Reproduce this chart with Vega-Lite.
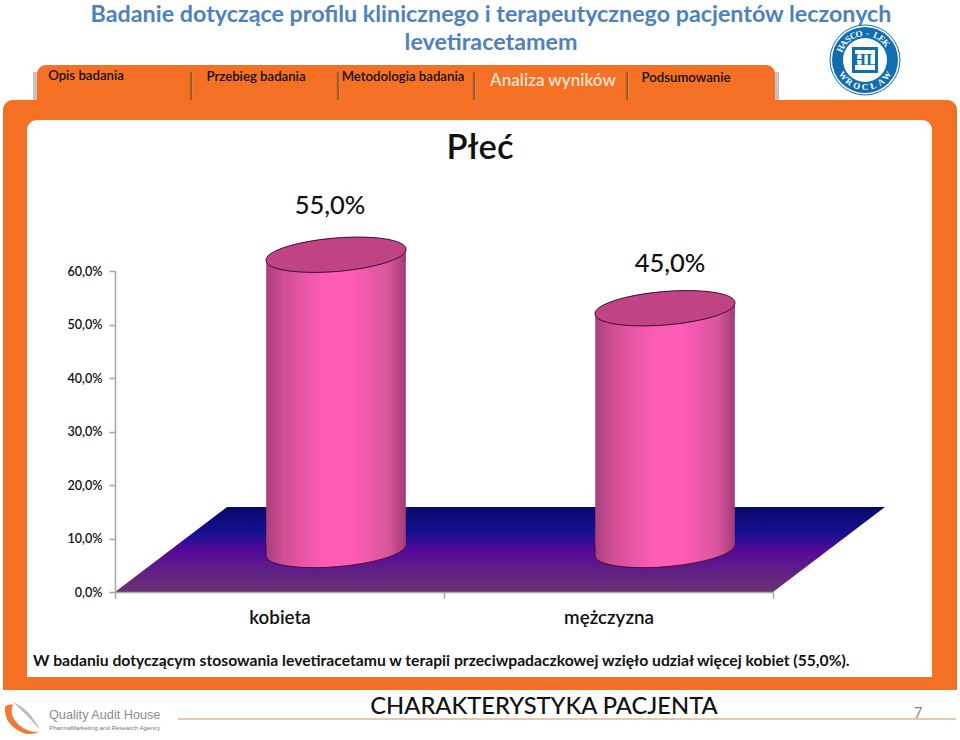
{
"$schema":"https://vega.github.io/schema/vega-lite/v6.json",
"width":960,"height":740,"padding":0,"autosize":{"type":"none"},"background":"white",
"config":{"view":{"stroke":null},"locale":{"number":{"decimal":",","thousands":" ","grouping":[3],"currency":["","zł"]}},"font":"Lato"},
"datasets":{
"bars":[{"plec":"kobieta","udzial":0.55},{"plec":"mężczyzna","udzial":0.45}],
"logoletters":[
{"t":"H","x":840.5,"y":48.6,"a":-65},{"t":"A","x":843.7,"y":43.4,"a":-52},{"t":"S","x":848,"y":39,"a":-39},{"t":"C","x":853.2,"y":35.7,"a":-26},{"t":"O","x":858.9,"y":33.7,"a":-13},{"t":"-","x":867.4,"y":33.1,"a":5},{"t":"L","x":876.4,"y":35.5,"a":25},{"t":"E","x":881.6,"y":38.7,"a":38},{"t":"K","x":886,"y":43,"a":51},
{"t":"W","x":843.2,"y":75.9,"a":54},{"t":"R","x":849.1,"y":81.8,"a":36},{"t":"O","x":856.7,"y":85.7,"a":18},{"t":"C","x":865,"y":87,"a":0},{"t":"Ł","x":873.3,"y":85.7,"a":-18},{"t":"A","x":880.9,"y":81.8,"a":-36},{"t":"W","x":886.8,"y":75.9,"a":-54}]
},
"resolve":{"scale":{"x":"independent","y":"independent"}},
"layer":[
{"data":{"values":[{"x":33,"x2":37,"y":72,"y2":100},{"x":775,"x2":779,"y":72,"y2":100}]},
 "mark":{"type":"rect","fill":"#C9C3BE"},
 "encoding":{"x":{"field":"x","type":"quantitative","axis":null,"scale":{"domain":[0,960],"range":[0,960],"nice":false,"zero":false}},"x2":{"field":"x2"},"y":{"field":"y","type":"quantitative","axis":null,"scale":{"domain":[0,740],"range":[0,740],"nice":false,"zero":false}},"y2":{"field":"y2"}}},
{"data":{"values":[{"x":3,"x2":957,"y":100,"y2":690}]},
 "mark":{"type":"rect","fill":"#F47024","cornerRadiusTopLeft":10,"cornerRadiusTopRight":10},
 "encoding":{"x":{"field":"x","type":"quantitative","axis":null,"scale":{"domain":[0,960],"range":[0,960],"nice":false,"zero":false}},"x2":{"field":"x2"},"y":{"field":"y","type":"quantitative","axis":null,"scale":{"domain":[0,740],"range":[0,740],"nice":false,"zero":false}},"y2":{"field":"y2"}}},
{"data":{"values":[{"x":37,"x2":775,"y":65,"y2":100}]},
 "mark":{"type":"rect","fill":"#F47024","cornerRadiusTopLeft":9,"cornerRadiusTopRight":9},
 "encoding":{"x":{"field":"x","type":"quantitative","axis":null,"scale":{"domain":[0,960],"range":[0,960],"nice":false,"zero":false}},"x2":{"field":"x2"},"y":{"field":"y","type":"quantitative","axis":null,"scale":{"domain":[0,740],"range":[0,740],"nice":false,"zero":false}},"y2":{"field":"y2"}}},
{"data":{"values":[{"x":189,"x2":193,"y":72,"y2":100},{"x":336,"x2":340,"y":72,"y2":100},{"x":472,"x2":476,"y":72,"y2":100},{"x":625,"x2":629,"y":72,"y2":100}]},
 "mark":{"type":"rect","fill":{"gradient":"linear","x1":0,"y1":0,"x2":1,"y2":0,"stops":[{"offset":0,"color":"#F47024"},{"offset":0.6,"color":"#9A5020"},{"offset":1,"color":"#E8A070"}]}},
 "encoding":{"x":{"field":"x","type":"quantitative","axis":null,"scale":{"domain":[0,960],"range":[0,960],"nice":false,"zero":false}},"x2":{"field":"x2"},"y":{"field":"y","type":"quantitative","axis":null,"scale":{"domain":[0,740],"range":[0,740],"nice":false,"zero":false}},"y2":{"field":"y2"}}},
{"data":{"values":[{"x":27,"x2":932,"y":120,"y2":677}]},
 "mark":{"type":"rect","fill":"#FFFFFF","cornerRadiusTopLeft":10,"cornerRadiusTopRight":10},
 "encoding":{"x":{"field":"x","type":"quantitative","axis":null,"scale":{"domain":[0,960],"range":[0,960],"nice":false,"zero":false}},"x2":{"field":"x2"},"y":{"field":"y","type":"quantitative","axis":null,"scale":{"domain":[0,740],"range":[0,740],"nice":false,"zero":false}},"y2":{"field":"y2"}}},
{"data":{"values":[{"x":178,"x2":956,"y":719}]},
 "mark":{"type":"rule","stroke":"#D9B79A","strokeWidth":1.5},
 "encoding":{"x":{"field":"x","type":"quantitative","axis":null,"scale":{"domain":[0,960],"range":[0,960],"nice":false,"zero":false}},"x2":{"field":"x2"},"y":{"field":"y","type":"quantitative","axis":null,"scale":{"domain":[0,740],"range":[0,740],"nice":false,"zero":false}}}},
{"data":{"values":[{"x":115,"g":592,"d":592},{"x":227,"g":507,"d":592},{"x":773,"g":507,"d":592},{"x":885,"g":507,"d":507}]},
 "mark":{"type":"area","fill":{"gradient":"linear","x1":0,"y1":0,"x2":0,"y2":1,"stops":[{"offset":0,"color":"#08086A"},{"offset":0.3,"color":"#151090"},{"offset":0.5,"color":"#54089A"},{"offset":0.72,"color":"#5E1C88"},{"offset":1,"color":"#6A3270"}]}},
 "encoding":{"x":{"field":"x","type":"quantitative","axis":null,"scale":{"domain":[0,960],"range":[0,960],"nice":false,"zero":false}},"y":{"field":"g","type":"quantitative","axis":null,"scale":{"domain":[0,740],"range":[0,740],"nice":false,"zero":false}},"y2":{"field":"d"}}},
{"data":{"name":"bars"},
 "mark":{"type":"point","filled":true,"opacity":1,"size":19712,"xOffset":56.5,"yOffset":-42,"stroke":"#4A0C40","strokeWidth":1,"shape":"M-0.9965,-0.12 L0.9965,-0.12 L0.9965,-0.083 A1,0.236,-4.76,1,1,-0.9965,0.083 Z","fill":{"gradient":"linear","x1":0,"y1":0,"x2":1,"y2":0,"stops":[{"offset":0,"color":"#A83E7C"},{"offset":0.12,"color":"#D04F94"},{"offset":0.42,"color":"#FF5CB6"},{"offset":0.62,"color":"#FF5CB6"},{"offset":0.88,"color":"#D8559C"},{"offset":1,"color":"#A03C78"}]}},
 "encoding":{"x":{"field":"plec","type":"nominal","sort":null,"axis":null,"scale":{"type":"band","domain":["kobieta","mężczyzna"],"range":[115,773],"paddingInner":0,"paddingOuter":0}},"y":{"datum":0,"type":"quantitative","axis":null,"scale":{"domain":[0,0.6],"range":[592,271],"nice":false,"zero":false}}}},
{"data":{"name":"bars"},
 "mark":{"type":"bar","width":139.6,"xOffset":56.5,"x2Offset":56.5,"yOffset":-38,"y2Offset":-47,"fill":{"gradient":"linear","x1":0,"y1":0,"x2":1,"y2":0,"stops":[{"offset":0,"color":"#A83E7C"},{"offset":0.12,"color":"#D04F94"},{"offset":0.42,"color":"#FF5CB6"},{"offset":0.62,"color":"#FF5CB6"},{"offset":0.88,"color":"#D8559C"},{"offset":1,"color":"#A03C78"}]}},
 "encoding":{"x":{"field":"plec","type":"nominal","sort":null,"title":null,"scale":{"type":"band","domain":["kobieta","mężczyzna"],"range":[115,773],"paddingInner":0,"paddingOuter":0},"axis":{"orient":"bottom","offset":-148,"zindex":1,"tickBand":"extent","labelAngle":0,"labelFont":"Lato","labelFontSize":18.8,"labelFontWeight":600,"labelColor":"#111111","labelPadding":10,"domainColor":"#A6A6A6","domainWidth":1.5,"tickColor":"#A6A6A6","tickWidth":1.5,"tickSize":6}},
  "y":{"field":"udzial","type":"quantitative","stack":null,"title":null,"scale":{"domain":[0,0.6],"range":[592,271],"nice":false,"zero":false},"axis":{"orient":"left","offset":-115,"zindex":1,"values":[0,0.1,0.2,0.3,0.4,0.5,0.6],"format":".1%","grid":false,"labelFont":"Lato","labelFontSize":12.6,"labelFontWeight":600,"labelColor":"#111111","labelPadding":7,"domainColor":"#A6A6A6","domainWidth":1.5,"tickColor":"#A6A6A6","tickWidth":1.5,"tickSize":6}},
  "y2":{"datum":0}}},
{"data":{"name":"bars"},
 "mark":{"type":"point","filled":true,"opacity":1,"size":19712,"xOffset":56.5,"yOffset":-43,"shape":"M-0.9965,0.083 L0.9965,-0.083 L0.9965,0.1 L-0.9965,0.1 Z","fill":{"gradient":"linear","x1":0,"y1":0,"x2":1,"y2":0,"stops":[{"offset":0,"color":"#A83E7C"},{"offset":0.12,"color":"#D04F94"},{"offset":0.42,"color":"#FF5CB6"},{"offset":0.62,"color":"#FF5CB6"},{"offset":0.88,"color":"#D8559C"},{"offset":1,"color":"#A03C78"}]}},
 "encoding":{"x":{"field":"plec","type":"nominal","sort":null,"axis":null,"scale":{"type":"band","domain":["kobieta","mężczyzna"],"range":[115,773],"paddingInner":0,"paddingOuter":0}},"y":{"field":"udzial","type":"quantitative","axis":null,"scale":{"domain":[0,0.6],"range":[592,271],"nice":false,"zero":false}}}},
{"data":{"name":"bars"},
 "mark":{"type":"point","filled":true,"opacity":1,"size":19712,"xOffset":56.5,"yOffset":-43,"stroke":"#3A0A30","strokeWidth":1,"fill":"#C04484","shape":"M-0.9965,0.083 A1,0.236,-4.76,1,1,0.9965,-0.083 A1,0.236,-4.76,1,1,-0.9965,0.083 Z"},
 "encoding":{"x":{"field":"plec","type":"nominal","sort":null,"axis":null,"scale":{"type":"band","domain":["kobieta","mężczyzna"],"range":[115,773],"paddingInner":0,"paddingOuter":0}},"y":{"field":"udzial","type":"quantitative","axis":null,"scale":{"domain":[0,0.6],"range":[592,271],"nice":false,"zero":false}}}},
{"data":{"name":"bars"},"transform":[{"filter":"datum.plec === 'kobieta'"}],
 "mark":{"type":"text","font":"Lato","fontSize":25.5,"fontWeight":500,"color":"#111111","xOffset":50.5,"yOffset":-92},
 "encoding":{"text":{"field":"udzial","type":"quantitative","format":".1%"},"x":{"field":"plec","type":"nominal","sort":null,"axis":null,"scale":{"type":"band","domain":["kobieta","mężczyzna"],"range":[115,773],"paddingInner":0,"paddingOuter":0}},"y":{"field":"udzial","type":"quantitative","axis":null,"scale":{"domain":[0,0.6],"range":[592,271],"nice":false,"zero":false}}}},
{"data":{"name":"bars"},"transform":[{"filter":"datum.plec === 'mężczyzna'"}],
 "mark":{"type":"text","font":"Lato","fontSize":25.5,"fontWeight":500,"color":"#111111","xOffset":61.5,"yOffset":-87},
 "encoding":{"text":{"field":"udzial","type":"quantitative","format":".1%"},"x":{"field":"plec","type":"nominal","sort":null,"axis":null,"scale":{"type":"band","domain":["kobieta","mężczyzna"],"range":[115,773],"paddingInner":0,"paddingOuter":0}},"y":{"field":"udzial","type":"quantitative","axis":null,"scale":{"domain":[0,0.6],"range":[592,271],"nice":false,"zero":false}}}},
{"data":{"values":[{"t":"Badanie dotyczące profilu klinicznego i terapeutycznego pacjentów leczonych","x":491,"y":15},{"t":"levetiracetamem","x":491,"y":43}]},
 "mark":{"type":"text","font":"Lato","fontSize":23.3,"fontWeight":"bold","color":"#4F81BD"},
 "encoding":{"text":{"field":"t"},"x":{"field":"x","type":"quantitative","axis":null,"scale":{"domain":[0,960],"range":[0,960],"nice":false,"zero":false}},"y":{"field":"y","type":"quantitative","axis":null,"scale":{"domain":[0,740],"range":[0,740],"nice":false,"zero":false}}}},
{"data":{"values":[{"t":"Opis badania","x":86,"y":76},{"t":"Przebieg badania","x":256,"y":77},{"t":"Metodologia badania","x":403,"y":77},{"t":"Podsumowanie","x":686,"y":78}]},
 "mark":{"type":"text","font":"Lato","fontSize":13.2,"fontWeight":600,"color":"#111111"},
 "encoding":{"text":{"field":"t"},"x":{"field":"x","type":"quantitative","axis":null,"scale":{"domain":[0,960],"range":[0,960],"nice":false,"zero":false}},"y":{"field":"y","type":"quantitative","axis":null,"scale":{"domain":[0,740],"range":[0,740],"nice":false,"zero":false}}}},
{"data":{"values":[{"t":"Analiza wyników","x":553,"y":81}]},
 "mark":{"type":"text","font":"Lato","fontSize":17,"fontWeight":600,"color":"#FBE3D3"},
 "encoding":{"text":{"field":"t"},"x":{"field":"x","type":"quantitative","axis":null,"scale":{"domain":[0,960],"range":[0,960],"nice":false,"zero":false}},"y":{"field":"y","type":"quantitative","axis":null,"scale":{"domain":[0,740],"range":[0,740],"nice":false,"zero":false}}}},
{"data":{"values":[{"t":"Płeć","x":480,"y":149}]},
 "mark":{"type":"text","font":"Lato","fontSize":34.5,"fontWeight":600,"color":"#111111"},
 "encoding":{"text":{"field":"t"},"x":{"field":"x","type":"quantitative","axis":null,"scale":{"domain":[0,960],"range":[0,960],"nice":false,"zero":false}},"y":{"field":"y","type":"quantitative","axis":null,"scale":{"domain":[0,740],"range":[0,740],"nice":false,"zero":false}}}},
{"data":{"values":[{"t":"W badaniu dotyczącym stosowania levetiracetamu w terapii przeciwpadaczkowej wzięło udział więcej kobiet (55,0%).","x":33,"y":661}]},
 "mark":{"type":"text","font":"Lato","fontSize":15.7,"fontWeight":"bold","color":"#111111","align":"left"},
 "encoding":{"text":{"field":"t"},"x":{"field":"x","type":"quantitative","axis":null,"scale":{"domain":[0,960],"range":[0,960],"nice":false,"zero":false}},"y":{"field":"y","type":"quantitative","axis":null,"scale":{"domain":[0,740],"range":[0,740],"nice":false,"zero":false}}}},
{"data":{"values":[{"t":"CHARAKTERYSTYKA PACJENTA","x":544,"y":707}]},
 "mark":{"type":"text","font":"Lato","fontSize":23.7,"fontWeight":500,"color":"#111111"},
 "encoding":{"text":{"field":"t"},"x":{"field":"x","type":"quantitative","axis":null,"scale":{"domain":[0,960],"range":[0,960],"nice":false,"zero":false}},"y":{"field":"y","type":"quantitative","axis":null,"scale":{"domain":[0,740],"range":[0,740],"nice":false,"zero":false}}}},
{"data":{"values":[{"t":"7","x":918,"y":713}]},
 "mark":{"type":"text","font":"Lato","fontSize":15,"color":"#8A8A8A"},
 "encoding":{"text":{"field":"t"},"x":{"field":"x","type":"quantitative","axis":null,"scale":{"domain":[0,960],"range":[0,960],"nice":false,"zero":false}},"y":{"field":"y","type":"quantitative","axis":null,"scale":{"domain":[0,740],"range":[0,740],"nice":false,"zero":false}}}},
{"data":{"values":[{"t":"Quality Audit House","x":49,"y":715}]},
 "mark":{"type":"text","font":"Liberation Sans","fontSize":12.7,"color":"#8C8C8C","align":"left"},
 "encoding":{"text":{"field":"t"},"x":{"field":"x","type":"quantitative","axis":null,"scale":{"domain":[0,960],"range":[0,960],"nice":false,"zero":false}},"y":{"field":"y","type":"quantitative","axis":null,"scale":{"domain":[0,740],"range":[0,740],"nice":false,"zero":false}}}},
{"data":{"values":[{"t":"PharmaMarketing and Research Agency","x":49,"y":728}]},
 "mark":{"type":"text","font":"Liberation Sans","fontSize":6.2,"color":"#777777","align":"left"},
 "encoding":{"text":{"field":"t"},"x":{"field":"x","type":"quantitative","axis":null,"scale":{"domain":[0,960],"range":[0,960],"nice":false,"zero":false}},"y":{"field":"y","type":"quantitative","axis":null,"scale":{"domain":[0,740],"range":[0,740],"nice":false,"zero":false}}}},
{"data":{"values":[{"x":22,"y":719}]},
 "mark":{"type":"point","filled":true,"opacity":1,"size":1296,"fill":"#BDBDBD","shape":"M-0.5,-0.95 Q0.4,-0.6 1,0.6 Q0.3,-0.2 -0.5,-0.95 Z"},
 "encoding":{"x":{"field":"x","type":"quantitative","axis":null,"scale":{"domain":[0,960],"range":[0,960],"nice":false,"zero":false}},"y":{"field":"y","type":"quantitative","axis":null,"scale":{"domain":[0,740],"range":[0,740],"nice":false,"zero":false}}}},
{"data":{"values":[{"x":22,"y":719}]},
 "mark":{"type":"point","filled":true,"opacity":1,"size":1296,"fill":"#F07A35","shape":"M-0.95,-0.65 Q-1,0.3 0,0.75 Q0.5,0.95 1,0.7 Q0.4,0.8 -0.2,0.3 Q-0.75,-0.2 -0.5,-0.8 Q-0.85,-0.85 -0.95,-0.65 Z"},
 "encoding":{"x":{"field":"x","type":"quantitative","axis":null,"scale":{"domain":[0,960],"range":[0,960],"nice":false,"zero":false}},"y":{"field":"y","type":"quantitative","axis":null,"scale":{"domain":[0,740],"range":[0,740],"nice":false,"zero":false}}}},
{"data":{"values":[{"x":865,"y":60}]},
 "mark":{"type":"point","shape":"circle","filled":true,"opacity":1,"size":4900,"fill":"#FFFFFF","stroke":"#0F6DB0","strokeWidth":1},
 "encoding":{"x":{"field":"x","type":"quantitative","axis":null,"scale":{"domain":[0,960],"range":[0,960],"nice":false,"zero":false}},"y":{"field":"y","type":"quantitative","axis":null,"scale":{"domain":[0,740],"range":[0,740],"nice":false,"zero":false}}}},
{"data":{"values":[{"x":865,"y":60}]},
 "mark":{"type":"point","shape":"circle","filled":true,"opacity":1,"size":4356,"fill":"#0F6DB0"},
 "encoding":{"x":{"field":"x","type":"quantitative","axis":null,"scale":{"domain":[0,960],"range":[0,960],"nice":false,"zero":false}},"y":{"field":"y","type":"quantitative","axis":null,"scale":{"domain":[0,740],"range":[0,740],"nice":false,"zero":false}}}},
{"data":{"values":[{"x":865,"y":60}]},
 "mark":{"type":"point","shape":"circle","filled":true,"opacity":1,"size":1936,"fill":"#FFFFFF"},
 "encoding":{"x":{"field":"x","type":"quantitative","axis":null,"scale":{"domain":[0,960],"range":[0,960],"nice":false,"zero":false}},"y":{"field":"y","type":"quantitative","axis":null,"scale":{"domain":[0,740],"range":[0,740],"nice":false,"zero":false}}}},
{"data":{"values":[{"x":865,"y":60}]},
 "mark":{"type":"point","shape":"square","filled":true,"opacity":1,"size":676,"fill":"#0F6DB0"},
 "encoding":{"x":{"field":"x","type":"quantitative","axis":null,"scale":{"domain":[0,960],"range":[0,960],"nice":false,"zero":false}},"y":{"field":"y","type":"quantitative","axis":null,"scale":{"domain":[0,740],"range":[0,740],"nice":false,"zero":false}}}},
{"data":{"values":[{"x":865,"y":60}]},
 "mark":{"type":"point","shape":"square","filled":true,"opacity":1,"size":400,"fill":"#FFFFFF"},
 "encoding":{"x":{"field":"x","type":"quantitative","axis":null,"scale":{"domain":[0,960],"range":[0,960],"nice":false,"zero":false}},"y":{"field":"y","type":"quantitative","axis":null,"scale":{"domain":[0,740],"range":[0,740],"nice":false,"zero":false}}}},
{"data":{"values":[{"t":"HL","x":865,"y":60}]},
 "mark":{"type":"text","font":"Liberation Serif","fontSize":17,"fontWeight":"bold","color":"#0F6DB0"},
 "encoding":{"text":{"field":"t"},"x":{"field":"x","type":"quantitative","axis":null,"scale":{"domain":[0,960],"range":[0,960],"nice":false,"zero":false}},"y":{"field":"y","type":"quantitative","axis":null,"scale":{"domain":[0,740],"range":[0,740],"nice":false,"zero":false}}}},
{"data":{"name":"logoletters"},
 "mark":{"type":"text","font":"Liberation Serif","fontSize":9,"fontWeight":"bold","color":"#FFFFFF"},
 "encoding":{"text":{"field":"t"},"angle":{"field":"a","type":"quantitative","scale":null},"x":{"field":"x","type":"quantitative","axis":null,"scale":{"domain":[0,960],"range":[0,960],"nice":false,"zero":false}},"y":{"field":"y","type":"quantitative","axis":null,"scale":{"domain":[0,740],"range":[0,740],"nice":false,"zero":false}}}}
]
}
